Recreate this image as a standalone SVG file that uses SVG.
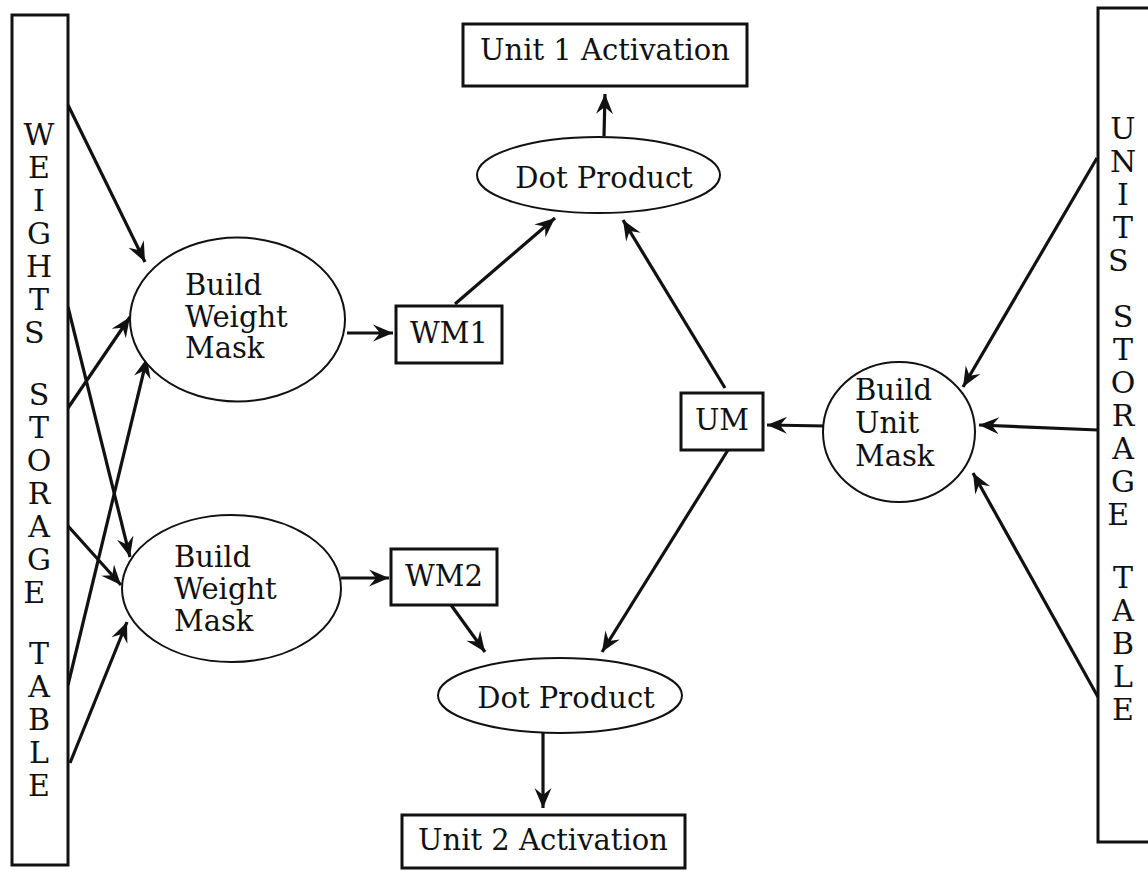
<svg xmlns="http://www.w3.org/2000/svg" width="1148" height="872" viewBox="0 0 1148 872">
  <style>
    .box { fill: #fff; stroke: #111; stroke-width: 3; }
    .oval { fill: #fff; stroke: #111; stroke-width: 2; }
    .txt { font-family: "DejaVu Serif", "Liberation Serif", serif; font-size: 29px; fill: #111; }
    .col { font-family: "DejaVu Serif", "Liberation Serif", serif; font-size: 30px; fill: #111; text-anchor: middle; }
    .mid { text-anchor: middle; }
    .edge { fill: none; stroke: #111; stroke-width: 3.2; marker-end: url(#head); }
  </style>
  <defs>
    <!-- barbed arrowhead, sized in user units so it ignores stroke width -->
    <marker id="head" markerUnits="userSpaceOnUse" markerWidth="24" markerHeight="20" viewBox="-21 -10 23 20" refX="0" refY="0" orient="auto">
      <path d="M0,0 L-20,-8.5 L-13,0 L-20,8.5 Z" fill="#111"/>
    </marker>
  </defs>
  <rect width="1148" height="872" fill="#fff"/>

  <!-- connectors -->
  <g id="connectors">
    <line class="edge" x1="68" y1="105" x2="145" y2="262"/>
    <line class="edge" x1="68" y1="307" x2="130" y2="557"/>
    <line class="edge" x1="68" y1="408" x2="130" y2="317"/>
    <line class="edge" x1="68" y1="526" x2="121" y2="585"/>
    <line class="edge" x1="68" y1="685" x2="147" y2="358"/>
    <line class="edge" x1="70" y1="763" x2="127" y2="622"/>
    <line class="edge" x1="347" y1="333" x2="393" y2="333"/>
    <line class="edge" x1="341" y1="578" x2="389" y2="578"/>
    <line class="edge" x1="455" y1="304" x2="555" y2="218"/>
    <line class="edge" x1="725" y1="388" x2="623" y2="220"/>
    <line class="edge" x1="826" y1="426" x2="767" y2="425"/>
    <line class="edge" x1="1097" y1="158" x2="963" y2="387"/>
    <line class="edge" x1="1098" y1="430" x2="979" y2="425"/>
    <line class="edge" x1="1098" y1="697" x2="973" y2="473"/>
    <line class="edge" x1="728" y1="450" x2="602" y2="652"/>
    <line class="edge" x1="451" y1="605" x2="485" y2="652"/>
    <line class="edge" x1="604" y1="136" x2="605" y2="94"/>
    <line class="edge" x1="543" y1="731" x2="543" y2="808"/>
  </g>

  <!-- weights storage table -->
  <g id="weights-table">
    <rect class="box" x="12" y="15" width="56" height="850"/>
    <text class="col">
      <tspan x="39" y="145">W</tspan><tspan x="39" y="178">E</tspan><tspan x="39" y="211">I</tspan><tspan x="39" y="244">G</tspan><tspan x="39" y="277">H</tspan><tspan x="39" y="310">T</tspan><tspan x="39" y="343">S</tspan>
      <tspan x="39" y="405">S</tspan><tspan x="39" y="438">T</tspan><tspan x="39" y="471">O</tspan><tspan x="39" y="504">R</tspan><tspan x="39" y="537">A</tspan><tspan x="39" y="570">G</tspan><tspan x="39" y="603">E</tspan>
      <tspan x="39" y="664">T</tspan><tspan x="39" y="697">A</tspan><tspan x="39" y="730">B</tspan><tspan x="39" y="763">L</tspan><tspan x="39" y="796">E</tspan>
    </text>
  </g>

  <!-- units storage table -->
  <g id="units-table">
    <rect class="box" x="1098" y="8" width="70" height="834"/>
    <text class="col">
      <tspan x="1123" y="139">U</tspan><tspan x="1123" y="172">N</tspan><tspan x="1123" y="205">I</tspan><tspan x="1123" y="238">T</tspan><tspan x="1123" y="271">S</tspan>
      <tspan x="1123" y="327">S</tspan><tspan x="1123" y="360">T</tspan><tspan x="1123" y="393">O</tspan><tspan x="1123" y="426">R</tspan><tspan x="1123" y="459">A</tspan><tspan x="1123" y="492">G</tspan><tspan x="1123" y="525">E</tspan>
      <tspan x="1123" y="588">T</tspan><tspan x="1123" y="621">A</tspan><tspan x="1123" y="654">B</tspan><tspan x="1123" y="687">L</tspan><tspan x="1123" y="720">E</tspan>
    </text>
  </g>

  <!-- upper weight mask builder -->
  <g id="build-weight-mask-1">
    <ellipse class="oval" cx="237.5" cy="319.5" rx="107.5" ry="82"/>
    <text class="txt"><tspan x="185" y="295">Build</tspan><tspan x="185" y="327">Weight</tspan><tspan x="185" y="358">Mask</tspan></text>
  </g>

  <!-- lower weight mask builder -->
  <g id="build-weight-mask-2">
    <ellipse class="oval" cx="231.5" cy="588.5" rx="109.5" ry="73.5"/>
    <text class="txt"><tspan x="174" y="567">Build</tspan><tspan x="174" y="599">Weight</tspan><tspan x="174" y="631">Mask</tspan></text>
  </g>

  <g id="wm1">
    <rect class="box" x="396" y="306" width="106" height="57"/>
    <text class="txt mid" x="449" y="343">WM1</text>
  </g>

  <g id="wm2">
    <rect class="box" x="391" y="549" width="106" height="56"/>
    <text class="txt mid" x="444" y="586">WM2</text>
  </g>

  <g id="um">
    <rect class="box" x="681" y="393" width="82" height="57"/>
    <text class="txt mid" x="722" y="430">UM</text>
  </g>

  <!-- unit mask builder -->
  <g id="build-unit-mask">
    <ellipse class="oval" cx="899" cy="432" rx="76" ry="70"/>
    <text class="txt"><tspan x="855" y="400">Build</tspan><tspan x="855" y="433">Unit</tspan><tspan x="855" y="466">Mask</tspan></text>
  </g>

  <g id="dot-product-1">
    <ellipse class="oval" cx="598.5" cy="175" rx="121.5" ry="38"/>
    <text class="txt mid" x="604" y="188">Dot Product</text>
  </g>

  <g id="dot-product-2">
    <ellipse class="oval" cx="560" cy="695.5" rx="122" ry="37.5"/>
    <text class="txt mid" x="566" y="708">Dot Product</text>
  </g>

  <g id="unit1-activation">
    <rect class="box" x="463" y="24" width="284" height="62"/>
    <text class="txt mid" x="605" y="60">Unit 1 Activation</text>
  </g>

  <g id="unit2-activation">
    <rect class="box" x="402" y="815" width="283" height="53"/>
    <text class="txt mid" x="543" y="850">Unit 2 Activation</text>
  </g>
</svg>
